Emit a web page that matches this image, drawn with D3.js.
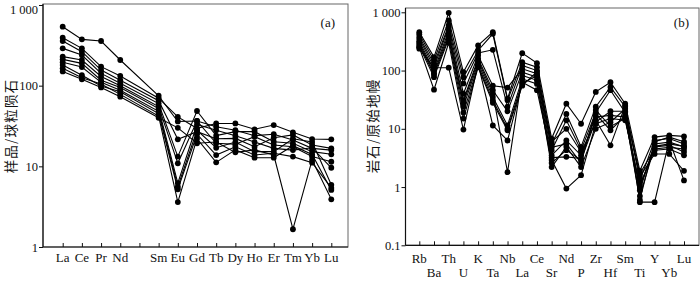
<!DOCTYPE html>
<html><head><meta charset="utf-8">
<script src="https://cdn.jsdelivr.net/npm/d3@7"></script>
<style>
html,body{margin:0;padding:0;background:#fff;}
svg{display:block;}
text{font-family:"Liberation Serif","Times New Roman",serif;fill:#111;}
.cjk{font-family:"Noto Sans CJK SC",sans-serif;}
</style></head>
<body><svg id="c" width="700" height="281"></svg>
<script>
// ---- Panel (a): chondrite-normalised REE ----
const reeElements = ["La","Ce","Pr","Nd","","Sm","Eu","Gd","Tb","Dy","Ho","Er","Tm","Yb","Lu"];
const reeTicks = [1,10,100,1000];
const reeTickLabels = ["1","10","100","1 000"];
// values per sample (null = Pm, not analysed)
const reeA1  = [538,375,358,208,null,75,36,36.5,31,28,24,25,21.2,16.7,15.9];
const reeA2  = [393,290,172,132,null,70,41,29.6,34,34,28.8,32.5,26.4,21.8,21.6];
const reeA3  = [358,264,156,117,null,65,21.6,26.9,22,22.2,17.5,22.6,24.5,18.4,16.7];
const reeA4  = [290,240,142,107,null,60,13.2,48.5,24,26.9,26.9,20.2,19.3,15.2,14.1];
const reeA5  = [229,208,130,100,null,55,10.9,36.5,19.3,18.8,23.3,18.4,17.5,13.2,11.4];
const reeA6  = [212,189,117,95,null,52,6.2,33,28,24,20,16.7,15.9,17,9.6];
const reeA7  = [195,170,110,88,null,48,5.6,28,17,20,15.2,15.2,22,20,5.9];
const reeA8  = [180,135,99,84,null,45,5.2,25,13.8,17.5,13.8,14.5,13.2,11.1,5.4];
const reeA9  = [164,125,105,78,null,42,3.6,22,11.2,16,12.8,12.8,18,14,5.1];
const reeA10 = [150,120,95,73,null,40,30,19.3,20,14.9,16,13.8,1.66,12,3.9];
const reeSamples = [reeA1,reeA2,reeA3,reeA4,reeA5,reeA6,reeA7,reeA8,reeA9,reeA10];

// ---- Panel (b): primitive-mantle-normalised spider ----
const spiderElements = ["Rb","Ba","Th","U","K","Ta","Nb","La","Ce","Sr","Nd","P","Zr","Hf","Sm","Ti","Y","Yb","Lu"];
const spiderTicks = [0.1,1,10,100,1000];
const spiderTickLabels = ["0.1","1","10","100","1 000"];
const spB1  = [456,170,980,94,270,456,33,199,134,6.8,27,12.2,43,63,27,1.9,7.2,7.7,7.4];
const spB2  = [420,149,723,77,221,428,31,139,114,5.5,18,4.9,24,52,24,1.3,6.3,6.8,5.5];
const spB3  = [380,130,600,60,200,227,24,122,100,4.3,14,4.3,19,46,19,0.88,5.5,5.9,4.9];
const spB4  = [350,114,555,40,182,55,51,107,88,3.5,6.3,3.5,16,17,16,0.7,4.9,5.2,4.0];
const spB5  = [320,100,480,31,160,46,20,94,77,2.9,0.94,1.6,12.2,15,14,1.1,4.3,4.5,3.5];
const spB6  = [300,90,427,28,149,40,1.8,82,68,2.2,4.9,2.2,10,13,22,1.5,3.7,3.7,1.9];
const spB7  = [280,85,380,24,135,35,11.4,72,59,2.6,4.3,2.9,14,5.2,25,0.55,0.55,6.3,1.3];
const spB8  = [260,77,351,19,122,31,10,63,46,3.2,3.3,3.1,18,9.4,17,0.6,6.0,7.2,6.0];
const spB9  = [250,47,300,15,114,28,9.4,55,95,4.8,5.5,2.6,21,11,15,1.0,5.0,5.5,5.0];
const spB10 = [237,112,112,9.7,130,11.4,6.3,60,82,6.0,10,4.0,13,20,20,1.7,4.5,4.8,4.5];
const spiderSamples = [spB1,spB2,spB3,spB4,spB5,spB6,spB7,spB8,spB9,spB10];

const svg = d3.select("#c");

function panel(cfg){
  const g = svg.append("g");
  const x = d3.scaleLinear().domain([1, cfg.elements.length]).range(cfg.xr);
  const y = d3.scaleLog().domain(cfg.ydom).range(cfg.yr);
  // frame
  g.append("rect").attr("x",cfg.frame[0]).attr("y",cfg.frame[1])
    .attr("width",cfg.frame[2]-cfg.frame[0]).attr("height",cfg.frame[3]-cfg.frame[1])
    .attr("fill","none").attr("stroke","#666").attr("stroke-width",1);
  // y axis
  const ya = d3.axisLeft(y).tickValues(cfg.yticks).tickSize(4)
    .tickFormat((d,i)=>cfg.ytickLabels[i]);
  const yg = g.append("g").attr("transform",`translate(${cfg.frame[0]},0)`).call(ya);
  yg.select(".domain").attr("d",`M0,${cfg.frame[1]}V${cfg.frame[3]}`).attr("stroke","#111").attr("stroke-width",1.2);
  yg.selectAll(".tick line").attr("stroke","#111");
  yg.selectAll(".tick text").attr("font-size",12.5).attr("x",-5)
    .style("font-family","'Liberation Serif',serif").attr("fill","#111")
    .attr("dy",(d)=> (y(d) < 10 ? "0.32em" : "0.32em"))
    .attr("y",(d)=> Math.max(0, 9 - y(d)));
  // x axis (inward ticks)
  const idx = d3.range(1, cfg.elements.length+1);
  const xa = d3.axisBottom(x).tickValues(idx).tickSize(-4).tickFormat("");
  const xg = g.append("g").attr("transform",`translate(0,${cfg.frame[3]})`).call(xa);
  xg.select(".domain").attr("d",`M${cfg.frame[0]},0H${cfg.frame[2]}`).attr("stroke","#111").attr("stroke-width",1.2);
  xg.selectAll(".tick line").attr("stroke","#111");
  // element labels
  g.selectAll("text.el").data(cfg.elements).enter().append("text").attr("class","el")
    .attr("x",(d,i)=>x(i+1)).attr("y",(d,i)=>cfg.labelY(i))
    .attr("text-anchor","middle").attr("font-size",13).text(d=>d);
  // lines
  const line = d3.line().x(d=>x(d.i)).y(d=>y(d.v));
  cfg.samples.forEach(s=>{
    const pts = s.map((v,i)=>({i:i+1,v})).filter(d=>d.v!=null);
    g.append("path").attr("d",line(pts)).attr("fill","none")
      .attr("stroke","#000").attr("stroke-width",1.1);
  });
  cfg.samples.forEach(s=>{
    const pts = s.map((v,i)=>({i:i+1,v})).filter(d=>d.v!=null);
    g.selectAll(null).data(pts).enter().append("circle")
      .attr("cx",d=>x(d.i)).attr("cy",d=>y(d.v)).attr("r",2.9).attr("fill","#000");
  });
  // panel tag
  g.append("text").attr("x",cfg.tag[0]).attr("y",cfg.tag[1]).attr("text-anchor","end")
    .attr("font-size",13).text(cfg.tagText);
  // y title
  g.append("text").attr("class","cjk")
    .attr("transform",`translate(${cfg.ytitle[0]},${cfg.ytitle[1]}) rotate(-90)`)
    .attr("text-anchor","middle").attr("dominant-baseline","central")
    .attr("font-size",13.5).attr("letter-spacing",1.2).text(cfg.ytitleText);
}

panel({
  elements: reeElements, samples: reeSamples,
  xr:[62.7,331.3], ydom:[1,1000], yr:[247,5],
  frame:[43,4,348,247], yticks:reeTicks, ytickLabels:reeTickLabels,
  labelY: i=>262, tag:[335,27], tagText:"(a)",
  ytitle:[10,126], ytitleText:"样品/球粒陨石"
});
panel({
  elements: spiderElements, samples: spiderSamples,
  xr:[419.3,684], ydom:[0.1,1000], yr:[245.3,12.3],
  frame:[405.5,8,699,245.3], yticks:spiderTicks, ytickLabels:spiderTickLabels,
  labelY: i=> (i%2===0 ? 263 : 276.5), tag:[689,27], tagText:"(b)",
  ytitle:[372,126], ytitleText:"岩石/原始地幔"
});
</script></body></html>
